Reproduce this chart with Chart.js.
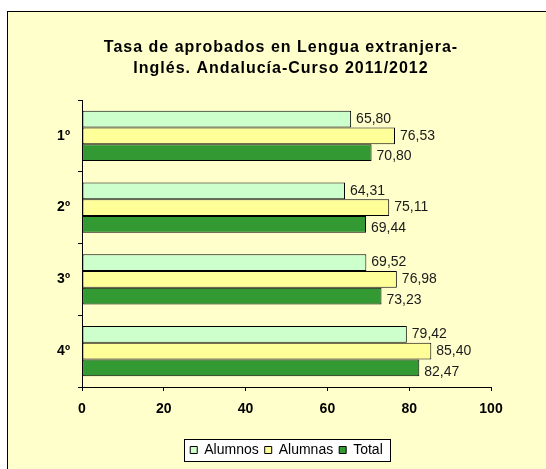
<!DOCTYPE html>
<html>
<head>
<meta charset="utf-8">
<script src="https://cdn.jsdelivr.net/npm/chart.js@4.4.0/dist/chart.umd.min.js"></script>
<style>
  html, body { margin: 0; padding: 0; background: #fff; overflow: hidden; width: 546px; height: 469px; }
  #frame { position: absolute; left: 7px; top: 11px; width: 560px; height: 480px; border: 1px solid #000; background: #ffffcc; }
  #wrap { position: absolute; left: 0; top: 0; width: 544px; height: 460px; }
</style>
</head>
<body>
<div id="frame"><div id="wrap"><canvas id="bar-chart"></canvas></div></div>
<script>
const titleLines = ['Tasa de aprobados en Lengua extranjera-', 'Inglés. Andalucía-Curso 2011/2012'];
const cursos = ['1º', '2º', '3º', '4º'];
const alumnos = [65.80, 64.31, 69.52, 79.42];
const alumnas = [76.53, 75.11, 76.98, 85.40];
const total = [70.80, 69.44, 73.23, 82.47];
const xTicks = [0, 20, 40, 60, 80, 100];

Chart.defaults.font.family = '"Liberation Sans", Arial, sans-serif';
Chart.defaults.color = '#000';

// title drawn by hand so it can get the wide letter spacing of the original
const titlePlugin = {
  id: 'spacedTitle',
  afterDraw(chart) {
    const ctx = chart.ctx;
    ctx.save();
    ctx.font = 'bold 16px "Liberation Sans", Arial, sans-serif';
    ctx.letterSpacing = '1px';
    ctx.fillStyle = '#000';
    ctx.textAlign = 'center';
    ctx.textBaseline = 'alphabetic';
    titleLines.forEach((t, i) => ctx.fillText(t, chart.width / 2 + 1, 40 + i * 21));
    ctx.restore();
  }
};

// white box with a frame behind the legend
const legendBox = {
  id: 'legendBox',
  beforeDraw(chart) {
    const hb = chart.legend && chart.legend.legendHitBoxes;
    if (!hb || !hb.length) return;
    const ctx = chart.ctx;
    const first = hb[0], last = hb[hb.length - 1];
    const cy = first.top + first.height / 2;
    const x0 = Math.round(first.left - 6) + 0.5;
    const x1 = Math.round(last.left + last.width + 7) + 0.5;
    const y0 = Math.round(cy - 11) + 0.5;
    ctx.save();
    ctx.fillStyle = '#fff';
    ctx.strokeStyle = '#000';
    ctx.lineWidth = 1;
    ctx.fillRect(x0, y0, x1 - x0, 22);
    ctx.strokeRect(x0, y0, x1 - x0, 22);
    ctx.restore();
  }
};

// value labels at the end of each bar, with comma decimals
const valueLabels = {
  id: 'valueLabels',
  afterDatasetsDraw(chart) {
    const ctx = chart.ctx;
    const shift = [0, 0, 4];
    ctx.save();
    ctx.font = '14px "Liberation Sans", Arial, sans-serif';
    ctx.fillStyle = '#1a1a1a';
    ctx.textAlign = 'left';
    ctx.textBaseline = 'middle';
    chart.data.datasets.forEach((ds, di) => {
      chart.getDatasetMeta(di).data.forEach((bar, i) => {
        ctx.fillText(ds.data[i].toFixed(2).replace('.', ','), bar.x + 5, bar.y + shift[di]);
      });
    });
    ctx.restore();
  }
};

const config = {
  type: 'bar',
  data: {
    labels: cursos,
    datasets: [
      { label: 'Alumnos', data: alumnos, backgroundColor: '#ccffcc' },
      { label: 'Alumnas', data: alumnas, backgroundColor: '#ffff99' },
      { label: 'Total', data: total, backgroundColor: '#339933' }
    ]
  },
  options: {
    indexAxis: 'y',
    responsive: true,
    maintainAspectRatio: false,
    animation: false,
    datasets: {
      bar: {
        categoryPercentage: 0.7,
        barPercentage: 1.0,
        borderColor: '#000',
        borderWidth: 1,
        borderSkipped: false
      }
    },
    layout: { padding: { top: 88, right: 61, bottom: 5, left: 0 } },
    scales: {
      x: {
        min: 0,
        max: 100,
        afterBuildTicks(s) { s.ticks = xTicks.map(v => ({ value: v })); },
        afterFit(s) { s.height = 50; },
        ticks: { font: { size: 14, weight: 'bold' }, color: '#000', padding: 10 },
        grid: { drawOnChartArea: false, tickLength: 4, color: '#000' },
        border: { color: '#000' }
      },
      y: {
        afterFit(s) { s.width = 74; },
        ticks: { font: { size: 14, weight: 'bold' }, color: '#000', padding: 8 },
        grid: { drawOnChartArea: false, tickLength: 4, color: '#000', offset: true },
        border: { color: '#000' }
      }
    },
    plugins: {
      title: { display: false },
      tooltip: { enabled: false },
      legend: {
        position: 'bottom',
        fullSize: false,
        labels: { boxWidth: 7, boxHeight: 7, padding: 6, font: { size: 14 }, color: '#000' }
      }
    }
  },
  plugins: [titlePlugin, legendBox, valueLabels]
};

const ctx = document.getElementById('bar-chart').getContext('2d');
window.myBar = new Chart(ctx, config);
</script>
</body>
</html>
